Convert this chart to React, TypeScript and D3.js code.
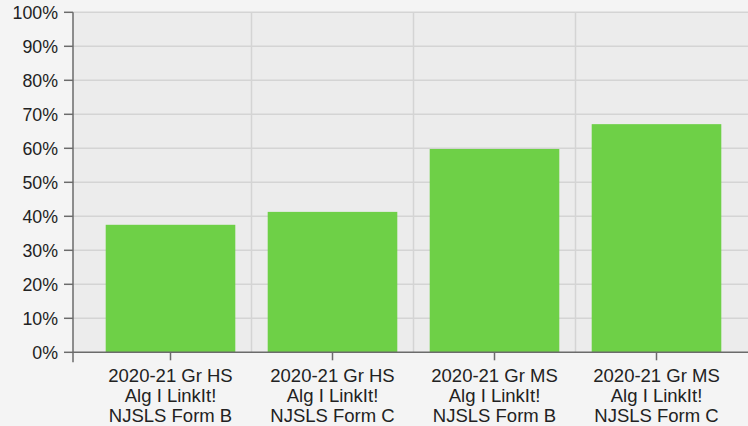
import { useEffect, useRef } from 'react';
import * as d3 from 'd3';

// categories (each label split into lines) and values in percent
const categories = [
  ['2020-21 Gr HS', 'Alg I LinkIt!', 'NJSLS Form B'],
  ['2020-21 Gr HS', 'Alg I LinkIt!', 'NJSLS Form C'],
  ['2020-21 Gr MS', 'Alg I LinkIt!', 'NJSLS Form B'],
  ['2020-21 Gr MS', 'Alg I LinkIt!', 'NJSLS Form C'],
];
const values = [37.5, 41.3, 59.8, 67.1];
const yTicks = [0, 10, 20, 30, 40, 50, 60, 70, 80, 90, 100];

const W = 748;
const H = 426;

export default function App() {
  const ref = useRef<SVGSVGElement>(null);

  useEffect(() => {
    const svg = d3.select(ref.current);
    svg.selectAll('*').remove();

    const left = 73;
    const right = 748;
    const top = 12.3;
    const bottom = 352.3;
    const font = '"Helvetica Neue", Helvetica, "Liberation Sans", Arial, sans-serif';

    const keys = categories.map((_, i) => String(i));
    const x = d3.scaleBand().domain(keys).range([89.5, 737.5]).paddingInner(0.2).paddingOuter(0.1);
    const y = d3.scaleLinear().domain([0, 100]).range([bottom, top]);

    svg.append('rect').attr('width', W).attr('height', H).attr('fill', '#f4f4f4');

    // plot background
    svg.append('rect')
      .attr('x', left).attr('y', top)
      .attr('width', right - left).attr('height', bottom - top)
      .attr('fill', '#ececec');

    // horizontal grid
    svg.append('g').selectAll('line').data(yTicks.slice(1)).join('line')
      .attr('x1', left).attr('x2', right)
      .attr('y1', d => y(d)).attr('y2', d => y(d))
      .attr('stroke', '#d4d4d4').attr('stroke-width', 1.5);

    // vertical grid between bands
    const step = x.step();
    svg.append('g').selectAll('line').data(keys.slice(1)).join('line')
      .attr('x1', d => (x(d) as number) - step * 0.1)
      .attr('x2', d => (x(d) as number) - step * 0.1)
      .attr('y1', top).attr('y2', bottom)
      .attr('stroke', '#d4d4d4').attr('stroke-width', 1.5);

    // bars
    svg.append('g').selectAll('rect').data(values).join('rect')
      .attr('x', (_, i) => x(keys[i]) as number)
      .attr('width', x.bandwidth())
      .attr('y', d => y(d))
      .attr('height', d => bottom - y(d))
      .attr('fill', '#6ed047');

    // axes
    const axisColor = '#6b6b6b';
    svg.append('line')
      .attr('x1', left).attr('x2', left).attr('y1', top).attr('y2', bottom + 10)
      .attr('stroke', axisColor).attr('stroke-width', 1.5);
    svg.append('line')
      .attr('x1', left).attr('x2', right).attr('y1', bottom).attr('y2', bottom)
      .attr('stroke', axisColor).attr('stroke-width', 1.5);

    const yg = svg.append('g').selectAll('g').data(yTicks).join('g');
    yg.append('line')
      .attr('x1', left - 9).attr('x2', left)
      .attr('y1', d => y(d)).attr('y2', d => y(d))
      .attr('stroke', axisColor).attr('stroke-width', 1.5);
    yg.append('text')
      .attr('x', left - 15).attr('y', d => y(d)).attr('dy', '0.36em')
      .attr('text-anchor', 'end')
      .attr('font-family', font).attr('font-size', 17.8).attr('fill', '#222')
      .text(d => `${d}%`);

    const xg = svg.append('g').selectAll('g').data(keys).join('g')
      .attr('transform', d => `translate(${(x(d) as number) + x.bandwidth() / 2},0)`);
    xg.append('line')
      .attr('y1', bottom).attr('y2', bottom + 8)
      .attr('stroke', axisColor).attr('stroke-width', 1.5);
    xg.append('text')
      .attr('text-anchor', 'middle')
      .attr('font-family', font).attr('font-size', 18.5).attr('fill', '#222')
      .selectAll('tspan').data((_, i) => categories[i]).join('tspan')
      .attr('x', 0)
      .attr('y', (_, j) => 381.7 + j * 20)
      .text(d => d);
  }, []);

  return (
    <svg ref={ref} width={W} height={H} style={{ position: 'absolute', left: 0, top: 0, display: 'block' }} />
  );
}
